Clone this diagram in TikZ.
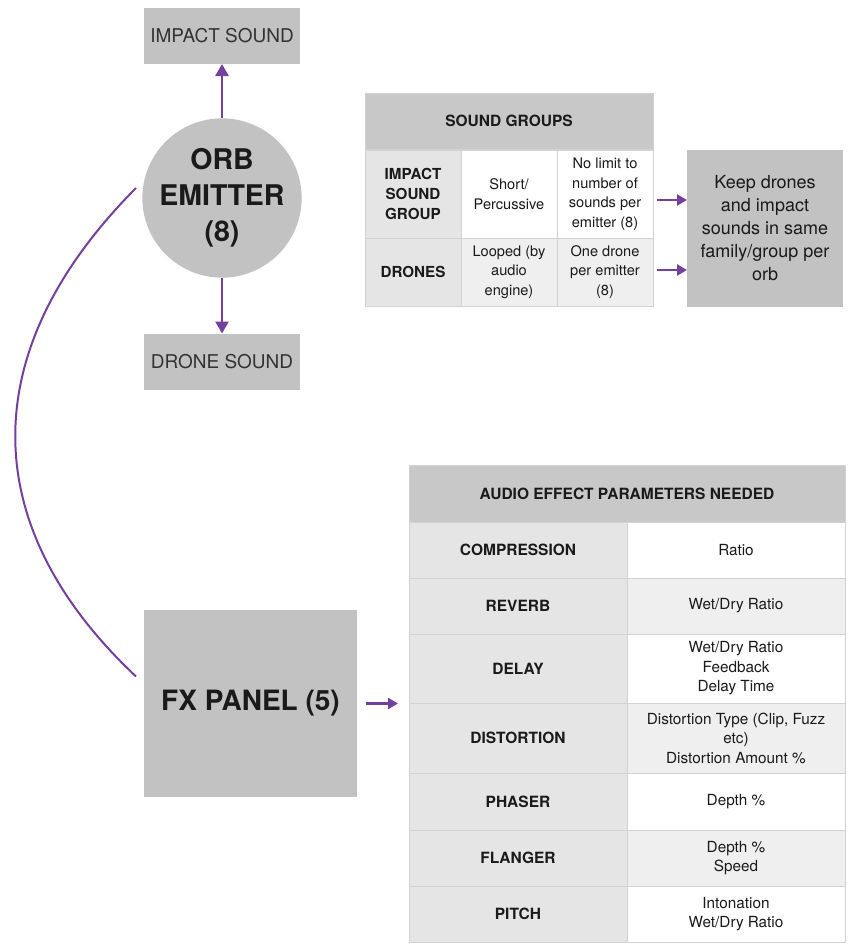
\documentclass[tikz,border=0pt]{standalone}
\usepackage{fontspec}
\setmainfont{TeX Gyre Heros}
\usetikzlibrary{arrows.meta,calc}
\definecolor{boxgray}{HTML}{C2C2C2}
\definecolor{hdrgray}{HTML}{C8C8C8}
\definecolor{lblgray}{HTML}{E5E5E5}
\definecolor{altgray}{HTML}{EFEFEF}
\definecolor{bordergray}{HTML}{D2D2D2}
\definecolor{purp}{HTML}{7440A0}
\definecolor{txt}{HTML}{1A1A1A}
\begin{document}
\begin{tikzpicture}[x=1pt,y=-1pt,
  gbox/.style={fill=boxgray, draw=none, inner sep=0pt, outer sep=0pt, align=center, text=txt},
  cell/.style={fill=white, draw=bordergray, line width=1pt, inner sep=0pt, outer sep=0pt, align=center, text=txt},
  hdr/.style={cell, fill=hdrgray, font=\fontsize{15.5}{18}\selectfont\bfseries},
  lbl/.style={cell, fill=lblgray, font=\fontsize{15.5}{20}\selectfont\bfseries},
  val/.style={cell, font=\fontsize{15.3}{19.5}\selectfont},
  sglbl/.style={cell, fill=lblgray, font=\fontsize{15.2}{20}\selectfont\bfseries},
  sgval/.style={cell, font=\fontsize{14.6}{19.5}\selectfont},
  arr/.style={draw=purp, line width=2.6pt, -{Triangle[width=13pt,length=12pt]}},
  sarr/.style={draw=purp, line width=2.4pt, -{Triangle[width=11pt,length=10pt]}},
  curve/.style={draw=purp, line width=2pt}
]
\useasboundingbox (0,0) rectangle (850,945);

% left column
\node[gbox, minimum width=156pt, minimum height=56pt, font=\fontsize{19}{22}\selectfont, text=black!80] (impact) at (222,36) {IMPACT SOUND};
\node[gbox, circle, minimum size=154pt, font=\fontsize{28.5}{36}\selectfont\bfseries] (orb) at (222,198) {ORB\\EMITTER\\(8)};
\node[gbox, minimum width=156pt, minimum height=56pt, font=\fontsize{19}{22}\selectfont, text=black!80] (drone) at (222,361.5) {DRONE SOUND};
\node[gbox, minimum width=213pt, minimum height=187pt, font=\fontsize{28}{34}\selectfont\bfseries] (fx) at (250.5,703.5) {FX PANEL (5)};

\draw[arr] (orb.north) -- (impact.south);
\draw[arr] (orb.south) -- (drone.north);

\coordinate (cs) at ($(orb.center)+(-86,-10)$);
\coordinate (ce) at ($(fx.west)+(-8,-27)$);
\draw[curve] (cs) .. controls (-25,350) and (-25,525) .. (ce);

% sound groups table
\node[hdr, minimum width=288pt, minimum height=56pt] (sgh) at (509,121) {SOUND GROUPS};
\node[sglbl, minimum width=96pt, minimum height=88pt] (r1c1) at (413,194) {IMPACT\\SOUND\\GROUP};
\node[sgval, minimum width=96pt, minimum height=88pt] (r1c2) at (509,194) {Short/\\Percussive};
\node[sgval, minimum width=96pt, minimum height=88pt] (r1c3) at (605,194) {No limit to\\number of\\sounds per\\emitter (8)};
\node[sglbl, minimum width=96pt, minimum height=68pt] (r2c1) at (413,272) {DRONES};
\node[sgval, fill=altgray, minimum width=96pt, minimum height=68pt] (r2c2) at (509,272) {Looped (by\\audio\\engine)};
\node[sgval, fill=altgray, minimum width=96pt, minimum height=68pt] (r2c3) at (605,272) {One drone\\per emitter\\(8)};

\node[gbox, minimum width=156pt, minimum height=157pt, font=\fontsize{18}{23}\selectfont] (keep) at (765,228.5) {Keep drones\\and impact\\sounds in same\\family/group per\\orb};

\draw[sarr] ($(r1c3.east)+(4,6)$) -- ($(keep.west |- r1c3.east)+(0,6)$);
\draw[sarr] ($(r2c3.east)+(4,-2)$) -- ($(keep.west |- r2c3.east)+(0,-2)$);

% audio effect table
\node[hdr, minimum width=436pt, minimum height=57pt] (aeh) at (627,493.5) {AUDIO EFFECT PARAMETERS NEEDED};
\node[lbl, minimum width=218pt, minimum height=56pt] (l1) at (518,550) {COMPRESSION};
\node[val, minimum width=218pt, minimum height=56pt] (v1) at (736,550) {Ratio};
\node[lbl, minimum width=218pt, minimum height=56pt] (l2) at (518,606) {REVERB};
\node[val, fill=altgray, minimum width=218pt, minimum height=56pt] (v2) at (736,606) {Wet/Dry Ratio};
\node[lbl, minimum width=218pt, minimum height=69pt] (l3) at (518,668.5) {DELAY};
\node[val, minimum width=218pt, minimum height=69pt] (v3) at (736,668.5) {Wet/Dry Ratio\\Feedback\\Delay Time};
\node[lbl, minimum width=218pt, minimum height=70pt] (l4) at (518,738) {DISTORTION};
\node[val, fill=altgray, minimum width=218pt, minimum height=70pt] (v4) at (736,738) {Distortion Type (Clip, Fuzz\\etc)\\Distortion Amount \%};
\node[lbl, minimum width=218pt, minimum height=57pt] (l5) at (518,801.5) {PHASER};
\node[val, minimum width=218pt, minimum height=57pt] (v5) at (736,801.5) {Depth \%};
\node[lbl, minimum width=218pt, minimum height=56pt] (l6) at (518,858) {FLANGER};
\node[val, fill=altgray, minimum width=218pt, minimum height=56pt] (v6) at (736,858) {Depth \%\\Speed};
\node[lbl, minimum width=218pt, minimum height=56pt] (l7) at (518,914) {PITCH};
\node[val, minimum width=218pt, minimum height=56pt] (v7) at (736,914) {Intonation\\Wet/Dry Ratio};

\draw[sarr] ($(fx.east)+(9,0)$) -- ($(l3.west |- fx.east)+(-11,0)$);
\end{tikzpicture}
\end{document}
